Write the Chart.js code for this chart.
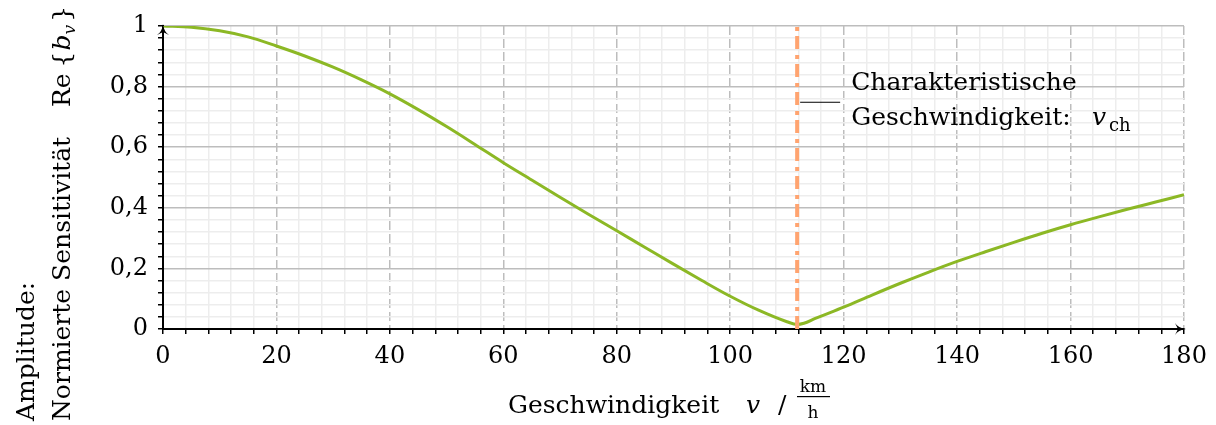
<!DOCTYPE html>
<html>
<head>
<meta charset="utf-8">
<script src="https://cdn.jsdelivr.net/npm/chart.js@4"></script>
<style>
  html, body { margin: 0; padding: 0; background: #fff; }
  #wrap { width: 1216px; height: 425px; }
</style>
</head>
<body>
<div id="wrap"><canvas id="sensitivity"></canvas></div>
<script>
'use strict';

// Normalised sensitivity amplitude over speed

var speed = [0, 5, 10, 15, 20, 25, 30, 35, 40, 45, 50, 55, 60, 65, 70, 75, 80, 85, 90, 95,
	100, 105, 110, 111.8, 113, 115, 120, 125, 130, 135, 140, 145, 150, 155, 160, 165, 170, 175, 180];
var amplitude = [1.000, 0.996, 0.984, 0.964, 0.934, 0.901, 0.864, 0.822, 0.776, 0.724, 0.668, 0.609,
	0.549, 0.492, 0.435, 0.379, 0.324, 0.269, 0.214, 0.160, 0.108, 0.062, 0.024, 0.015, 0.019, 0.035,
	0.072, 0.112, 0.151, 0.188, 0.223, 0.255, 0.286, 0.316, 0.344, 0.370, 0.395, 0.419, 0.443];
var vCharacteristic = 111.8;
var xTickLabels = [0, 20, 40, 60, 80, 100, 120, 140, 160, 180];
var yTickLabels = [0, 0.2, 0.4, 0.6, 0.8, 1];

var SERIF = "'DejaVu Serif', 'Liberation Serif', serif";
var GRID_MAJOR = '#bdbdbd';
var GRID_MINOR = '#ededed';

function isMajor(list, v) {
	return list.some(function (t) { return Math.abs(t - v) < 1e-6; });
}

function formatY(v) {
	if (Math.abs(v) < 1e-6) return '0';
	if (Math.abs(v - 1) < 1e-6) return '1';
	return v.toFixed(1).replace('.', ',');
}

var curve = speed.map(function (v, i) { return { x: v, y: amplitude[i] }; });
var marker = [{ x: vCharacteristic, y: 0 }, { x: vCharacteristic, y: 1 }];

// draws a run of [text, font, dy, gapAfter] pieces one after another
function drawRun(ctx, x, y, pieces) {
	pieces.forEach(function (p) {
		ctx.font = p[1];
		ctx.fillText(p[0], x, y + p[2]);
		x += ctx.measureText(p[0]).width + p[3];
	});
}

// axis arrows, axis titles and the annotation for v_ch
var decorations = {
	id: 'decorations',
	afterDraw: function (chart) {
		var ctx = chart.ctx;
		var area = chart.chartArea;
		var xs = chart.scales.x;
		var ys = chart.scales.y;
		ctx.save();

		// arrow heads
		ctx.fillStyle = '#000';
		ctx.strokeStyle = '#000';
		ctx.beginPath();
		ctx.moveTo(area.left, area.top - 2);
		ctx.quadraticCurveTo(area.left - 1, area.top + 6, area.left - 6, area.top + 9);
		ctx.lineTo(area.left, area.top + 6);
		ctx.lineTo(area.left + 6, area.top + 9);
		ctx.quadraticCurveTo(area.left + 1, area.top + 6, area.left, area.top - 2);
		ctx.fill();
		ctx.beginPath();
		ctx.moveTo(area.right + 2, area.bottom);
		ctx.quadraticCurveTo(area.right - 6, area.bottom - 1, area.right - 9, area.bottom - 6);
		ctx.lineTo(area.right - 6, area.bottom);
		ctx.lineTo(area.right - 9, area.bottom + 6);
		ctx.quadraticCurveTo(area.right - 6, area.bottom + 1, area.right + 2, area.bottom);
		ctx.fill();

		// annotation
		var lx = xs.getPixelForValue(vCharacteristic) + 3;
		var ly = ys.getPixelForValue(0.75);
		ctx.lineWidth = 1;
		ctx.beginPath();
		ctx.moveTo(lx, ly + 0.5);
		ctx.lineTo(lx + 40, ly + 0.5);
		ctx.stroke();
		ctx.textBaseline = 'alphabetic';
		ctx.textAlign = 'left';
		ctx.font = '25px ' + SERIF;
		var tx = lx + 51;
		ctx.fillText('Charakteristische', tx, ly - 12);
		ctx.fillText('Geschwindigkeit:', tx, ly + 23);
		ctx.font = 'italic 25px ' + SERIF;
		ctx.fillText('v', 1092, ly + 23);
		ctx.font = '18px ' + SERIF;
		ctx.fillText('ch', 1109, ly + 29);

		// x axis title
		ctx.font = '25px ' + SERIF;
		ctx.fillText('Geschwindigkeit', 508, 413);
		ctx.font = 'italic 25px ' + SERIF;
		ctx.fillText('v', 746, 413);
		ctx.font = '25px ' + SERIF;
		ctx.fillText('/', 778, 413);
		ctx.font = '17px ' + SERIF;
		ctx.textAlign = 'center';
		ctx.fillText('km', 813, 392);
		ctx.fillText('h', 813, 418);
		ctx.fillRect(797, 396, 33, 1.2);

		// y axis title, rotated
		ctx.textAlign = 'left';
		ctx.save();
		ctx.translate(34, 421);
		ctx.rotate(-Math.PI / 2);
		ctx.font = '25px ' + SERIF;
		ctx.fillText('Amplitude:', 0, 0);
		ctx.restore();
		ctx.save();
		ctx.translate(70, 421);
		ctx.rotate(-Math.PI / 2);
		ctx.font = '25px ' + SERIF;
		ctx.fillText('Normierte Sensitivität', 0, 0);
		drawRun(ctx, 314, 0, [
			['Re', '25px ' + SERIF, 0, 6],
			['{', '25px ' + SERIF, 0, 1],
			['b', 'italic 25px ' + SERIF, 0, 0],
			['v', 'italic 17px ' + SERIF, 5, 3],
			['}', '25px ' + SERIF, 0, 0]
		]);
		ctx.restore();

		ctx.restore();
	}
};

Chart.defaults.font.family = SERIF;
Chart.defaults.font.size = 24;
Chart.defaults.color = '#000';

var chart = new Chart(document.getElementById('sensitivity'), {
	type: 'line',
	data: {
		datasets: [{
			label: 'v_ch',
			data: marker,
			borderColor: '#ffa470',
			borderWidth: 4,
			borderDash: [13, 5, 4, 6],
			pointRadius: 0,
			order: 0
		}, {
			label: 'Re{b_v}',
			data: curve,
			borderColor: '#8cb825',
			borderWidth: 3,
			cubicInterpolationMode: 'monotone',
			pointRadius: 0,
			order: 1
		}]
	},
	options: {
		responsive: true,
		maintainAspectRatio: false,
		animation: false,
		events: [],
		layout: { padding: { left: 0, right: 32, top: 26, bottom: 0 } },
		plugins: {
			legend: { display: false },
			tooltip: { enabled: false }
		},
		scales: {
			x: {
				type: 'linear',
				min: 0,
				max: 180,
				afterFit: function (scale) { scale.height = 96; },
				ticks: {
					stepSize: 4,
					autoSkip: false,
					maxRotation: 0,
					padding: 8,
					callback: function (v) { return isMajor(xTickLabels, v) ? String(v) : ''; }
				},
				grid: {
					color: function (c) { return isMajor(xTickLabels, c.tick.value) ? 'rgba(0,0,0,0)' : GRID_MINOR; },
					lineWidth: 1.5,
					tickColor: '#000',
					tickLength: 5,
					tickWidth: 1.5
				},
				border: { color: '#000', width: 2 }
			},
			xMajor: {
				type: 'linear',
				position: 'bottom',
				min: 0,
				max: 180,
				afterFit: function (scale) { scale.height = 0; },
				ticks: { display: false, stepSize: 20 },
				grid: { color: GRID_MAJOR, lineWidth: 1.5, drawTicks: false },
				border: { display: false, dash: [9, 4] }
			},
			y: {
				type: 'linear',
				min: 0,
				max: 1,
				afterFit: function (scale) { scale.width = 163; },
				ticks: {
					stepSize: 0.04,
					autoSkip: false,
					padding: 10,
					callback: function (v) { return isMajor(yTickLabels, v) ? formatY(v) : ''; }
				},
				grid: {
					color: function (c) { return isMajor(yTickLabels, c.tick.value) ? GRID_MAJOR : GRID_MINOR; },
					lineWidth: 1.5,
					tickColor: '#000',
					tickLength: 5,
					tickWidth: 1.5
				},
				border: { color: '#000', width: 2 }
			}
		}
	},
	plugins: [decorations]
});
</script>
</body>
</html>
